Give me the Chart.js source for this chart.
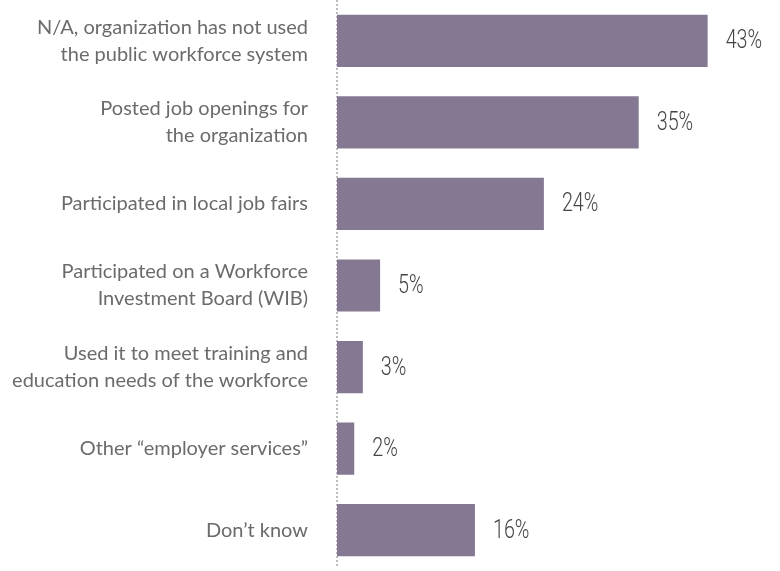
<!DOCTYPE html>
<html lang="en">
<head>
    <meta charset="UTF-8">
    <title>Use of the public workforce system</title>
    <script src="https://cdn.jsdelivr.net/npm/chart.js"></script>
    <style>
        html, body { margin: 0; padding: 0; background: #fff; }
        #wrap { width: 780px; height: 571px; }
    </style>
</head>
<body>
    <div id="wrap"><canvas id="usageChart"></canvas></div>

    <script>
        // categories (multi-line ones split into rows) and percentages
        const categories = [
            ['N/A, organization has not used', 'the public workforce system'],
            ['Posted job openings for', 'the organization'],
            'Participated in local job fairs',
            ['Participated on a Workforce', 'Investment Board (WIB)'],
            ['Used it to meet training and', 'education needs of the workforce'],
            'Other \u201cemployer services\u201d',
            'Don\u2019t know'
        ];
        const percents = [43, 35, 24, 5, 3, 2, 16];
        const valueLabels = ['43%', '35%', '24%', '5%', '3%', '2%', '16%'];

        // draws the percentage next to the end of each bar, in a narrow face
        const barValues = {
            id: 'barValues',
            afterDatasetsDraw(chart) {
                const ctx = chart.ctx;
                const meta = chart.getDatasetMeta(0);
                ctx.save();
                ctx.fillStyle = '#454545';
                ctx.font = '300 26px Roboto';
                ctx.textBaseline = 'middle';
                meta.data.forEach((bar, i) => {
                    ctx.save();
                    ctx.translate(bar.x + 18, bar.y + 1);
                    ctx.scale(0.76, 1);
                    ctx.fillText(valueLabels[i], 0, 0);
                    ctx.restore();
                });
                ctx.restore();
            }
        };

        // dotted rule along the category axis, full canvas height
        const axisRule = {
            id: 'axisRule',
            beforeDatasetsDraw(chart) {
                const ctx = chart.ctx;
                const x = chart.scales.x.getPixelForValue(0);
                ctx.save();
                ctx.strokeStyle = '#a8a8a8';
                ctx.lineWidth = 1.5;
                ctx.setLineDash([2, 2]);
                ctx.beginPath();
                ctx.moveTo(x, 0);
                ctx.lineTo(x, chart.height - 3);
                ctx.stroke();
                ctx.restore();
            }
        };

        new Chart(document.getElementById('usageChart'), {
            type: 'bar',
            data: {
                labels: categories,
                datasets: [{
                    data: percents,
                    backgroundColor: '#857892',
                    barPercentage: 0.64,
                    categoryPercentage: 1
                }]
            },
            options: {
                indexAxis: 'y',
                responsive: true,
                maintainAspectRatio: false,
                animation: false,
                layout: { padding: { left: 0, right: 12, top: 0, bottom: 0 } },
                plugins: {
                    legend: { display: false },
                    tooltip: { enabled: false }
                },
                scales: {
                    x: {
                        display: false,
                        min: 0,
                        max: 50
                    },
                    y: {
                        afterFit(scale) {
                            scale.width = 337;
                            scale.paddingTop = 0;
                            scale.paddingBottom = 0;
                        },
                        grid: { display: false, drawTicks: false },
                        border: { display: false },
                        ticks: {
                            padding: 29,
                            color: '#6b6b6b',
                            font: { family: 'Lato', size: 20, lineHeight: 1.35 }
                        }
                    }
                }
            },
            plugins: [axisRule, barValues]
        });
    </script>
</body>
</html>
